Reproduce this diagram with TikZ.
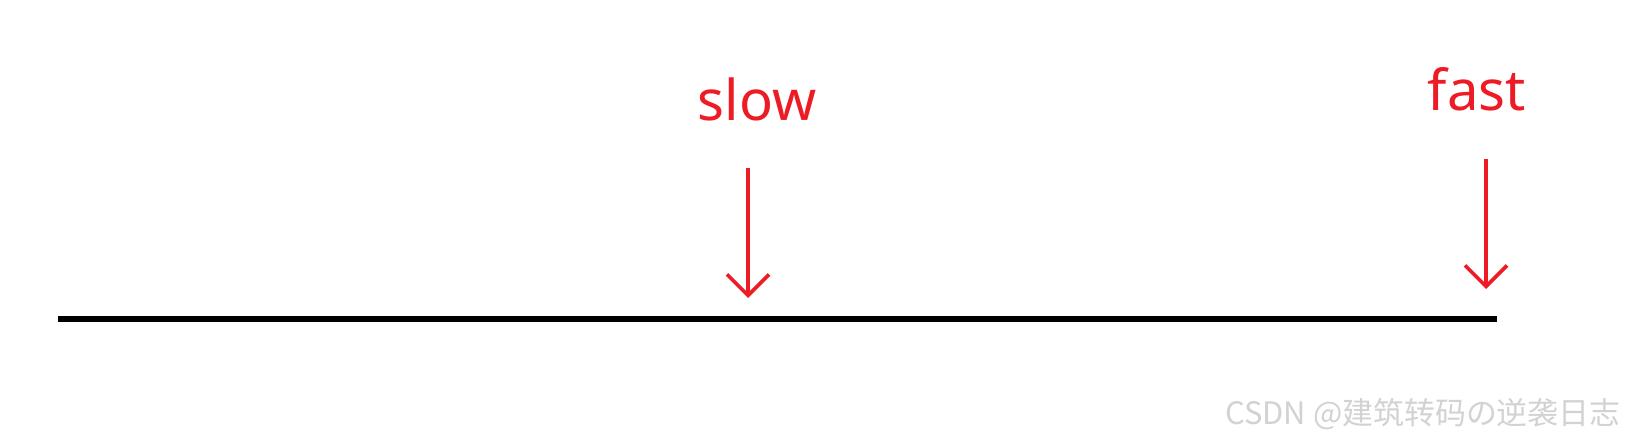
\documentclass[tikz,border=0pt]{standalone}
\usepackage{fontspec}
\setmainfont{Noto Sans}
\newfontfamily\cjk{Noto Sans CJK SC}
\usetikzlibrary{arrows.meta}
\definecolor{penred}{RGB}{237,28,36}
\tikzset{
  speedlabel/.style={text=penred, inner sep=0pt, anchor=base, font=\fontsize{32}{36}\selectfont},
  speedarrow/.style={penred, line width=2.1pt, -{Straight Barb[length=0.42cm, width=0.84cm, line width=2.1pt]}}
}
\begin{document}
\begin{tikzpicture}[x=0.02cm, y=-0.02cm]
            \useasboundingbox (0,0) rectangle (1628,442);
            % axis line
            \coordinate (start) at (58,319);
            \coordinate (end) at (1497,319);
            \draw[line width=2.85pt, black] (start) -- (end);
            % slow
            \node[speedlabel] (slow) at (757,121) {slow};
            \coordinate (slowtop) at (748,168);
            \coordinate (slowtip) at (748,298);
            \draw[speedarrow] (slowtop) -- (slowtip);
            % fast
            \node[speedlabel] (fast) at (1477,111) {fast};
            \coordinate (fasttop) at (1486,159);
            \coordinate (fasttip) at (1486,289);
            \draw[speedarrow] (fasttop) -- (fasttip);
            % watermark
            \node[anchor=base east, inner sep=0pt, text=gray!35, font=\cjk\fontsize{17.6}{21}\selectfont] (mark) at (1621,424) {CSDN @建筑转码の逆袭日志};
        \end{tikzpicture}
\end{document}
